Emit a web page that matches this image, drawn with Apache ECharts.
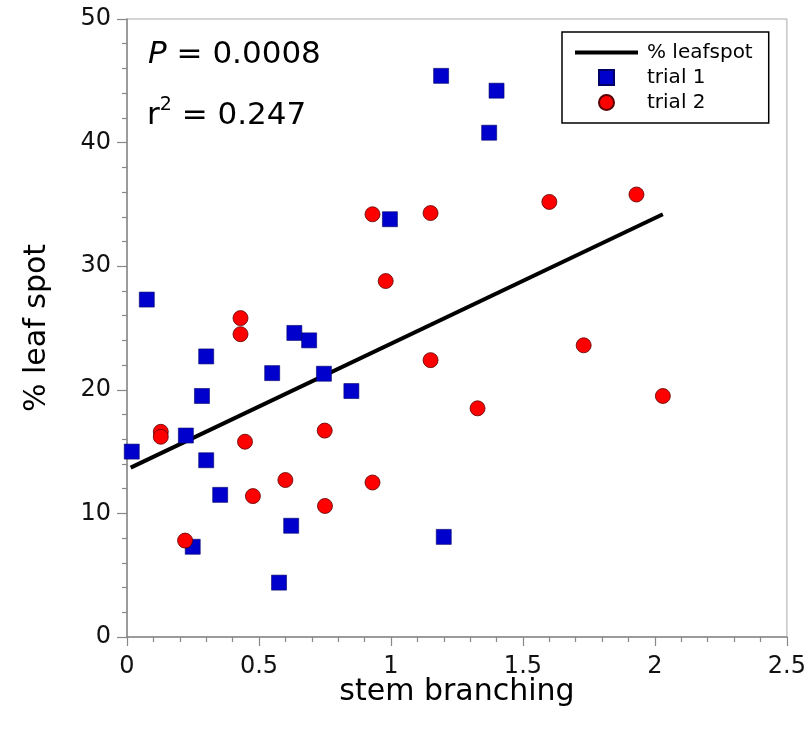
<!DOCTYPE html>
<html>
<head>
<meta charset="utf-8">
<script src="https://cdn.jsdelivr.net/npm/echarts@6/dist/echarts.min.js"></script>
<style>html,body{margin:0;padding:0;background:#fff;}#c{width:809px;height:746px;}</style>
</head>
<body>
<div id="c"></div>
<script>
// trial 1 (blue squares)
const trial1X = [0.018,0.075,0.223,0.249,0.284,0.30,0.30,0.353,0.55,0.576,0.622,0.634,0.69,0.746,0.85,0.996,1.19,1.20,1.372,1.40];
const trial1Y = [15.0,27.3,16.3,7.3,19.5,14.3,22.7,11.5,21.35,4.4,9.0,24.6,24.0,21.3,19.9,33.8,45.4,8.1,40.8,44.2];
// trial 2 (red circles)
const trial2X = [0.128,0.128,0.22,0.43,0.43,0.447,0.477,0.60,0.749,0.75,0.93,0.93,0.98,1.15,1.15,1.328,1.60,1.73,1.93,2.03];
const trial2Y = [16.6,16.2,7.8,25.8,24.5,15.8,11.4,12.7,16.7,10.6,34.2,12.5,28.8,34.3,22.4,18.5,35.2,23.6,35.8,19.5];
// regression line endpoints
const fitX = [0.014, 2.03];
const fitY = [13.7, 34.2];
const xTicks = [0, 0.5, 1, 1.5, 2, 2.5];
const yTicks = [0, 10, 20, 30, 40, 50];
const statP = '0.0008';
const statR2 = '0.247';

const zip = (a, b) => a.map((v, i) => [v, b[i]]);
const FONT = 'DejaVu Sans';

const chart = echarts.init(document.getElementById('c'));
chart.setOption({
  animation: false,
  backgroundColor: '#fff',
  textStyle: { fontFamily: FONT },
  grid: { left: 127, right: 22, top: 19, bottom: 109, show: true, borderColor: '#aaa', borderWidth: 1 },
  xAxis: {
    type: 'value', min: xTicks[0], max: xTicks[xTicks.length - 1], interval: 0.5,
    name: 'stem branching', nameLocation: 'middle', nameGap: 40, nameMoveOverlap: false,
    nameTextStyle: { fontSize: 30, color: '#000', fontFamily: FONT },
    axisLine: { show: true, lineStyle: { color: '#888', width: 1.5 } },
    axisTick: { show: true, inside: false, length: 9, lineStyle: { color: '#888', width: 1.2 } },
    minorTick: { show: true, splitNumber: 5, length: 5, lineStyle: { color: '#888', width: 1.2 } },
    splitLine: { show: false },
    axisLabel: { fontSize: 24, color: '#111', margin: 18, fontFamily: FONT,
      formatter: v => (xTicks.includes(v) ? String(v) : '') }
  },
  yAxis: {
    type: 'value', min: yTicks[0], max: yTicks[yTicks.length - 1], interval: 10,
    name: '% leaf spot', nameLocation: 'middle', nameGap: 75, nameRotate: 90, nameMoveOverlap: false,
    nameTextStyle: { fontSize: 30, color: '#000', fontFamily: FONT },
    axisLine: { show: true, lineStyle: { color: '#888', width: 1.5 } },
    axisTick: { show: true, inside: false, length: 10, lineStyle: { color: '#888', width: 1.2 } },
    minorTick: { show: true, splitNumber: 5, length: 5, lineStyle: { color: '#888', width: 1.2 } },
    splitLine: { show: false },
    axisLabel: { fontSize: 24, color: '#111', margin: 16, fontFamily: FONT,
      formatter: v => (yTicks.includes(v) ? String(v) : '') }
  },
  legend: {
    orient: 'vertical', left: 562, top: 32,
    padding: [8, 16, 8, 13],
    borderColor: '#000', borderWidth: 1.5, backgroundColor: '#fff',
    itemWidth: 63, itemHeight: 15, itemGap: 0,
    symbolKeepAspect: true,
    textStyle: { fontSize: 20, color: '#000', fontFamily: FONT, lineHeight: 25, padding: [0, 0, 0, 4] },
    data: [
      { name: '% leafspot', icon: 'path://M0,0h63v4h-63z', itemStyle: { color: '#000' } },
      { name: 'trial 1', icon: 'path://M0,0h10v10h-10z' },
      { name: 'trial 2', icon: 'circle' }
    ]
  },
  graphic: [
    { type: 'text', left: 148, top: 39,
      style: { text: '{i|P} = ' + statP, fill: '#000', font: '31px "DejaVu Sans"',
        rich: { i: { fontStyle: 'italic', fontSize: 31, fontFamily: FONT, fill: '#000' } } } },
    { type: 'text', left: 147, top: 96,
      style: { text: 'r{sup|2} = ' + statR2, fill: '#000', font: '31px "DejaVu Sans"', lineHeight: 40,
        rich: { sup: { fontSize: 19, fontFamily: FONT, fill: '#000', verticalAlign: 'top', lineHeight: 19 } } } }
  ],
  series: [
    { name: '% leafspot', type: 'line', data: zip(fitX, fitY), symbol: 'none', showSymbol: false,
      lineStyle: { color: '#000', width: 4 }, itemStyle: { color: '#000' }, z: 2, silent: true },
    { name: 'trial 1', type: 'scatter', data: zip(trial1X, trial1Y), symbol: 'rect', symbolSize: 15,
      itemStyle: { color: '#0000cc', borderColor: '#000066', borderWidth: 0.6, opacity: 1 }, z: 3 },
    { name: 'trial 2', type: 'scatter', data: zip(trial2X, trial2Y), symbol: 'circle', symbolSize: 15,
      itemStyle: { color: '#ff0000', borderColor: '#5a0000', borderWidth: 0.8, opacity: 1 }, z: 4 }
  ]
});
</script>
</body>
</html>
